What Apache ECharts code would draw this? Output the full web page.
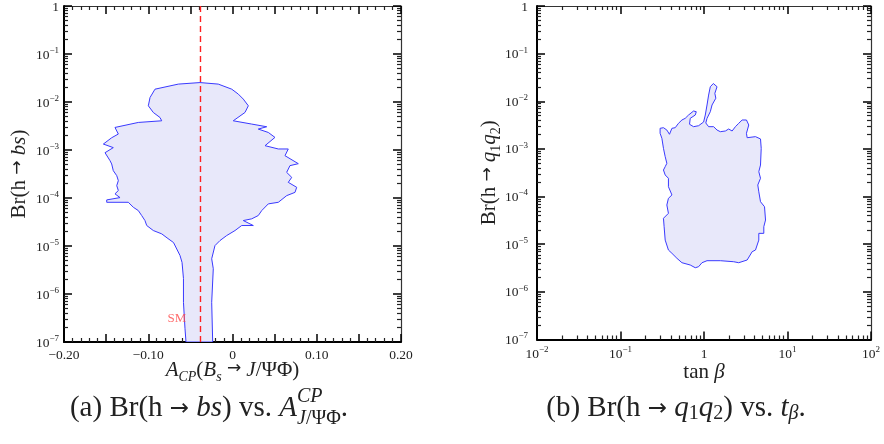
<!DOCTYPE html>
<html><head><meta charset="utf-8">
<script src="https://cdn.jsdelivr.net/npm/echarts@6/dist/echarts.min.js"></script>
<style>html,body{margin:0;padding:0;background:#fff}#c{width:884px;height:444px}</style>
</head><body><div id="c"></div>
<script>
// ---------- data ----------
// (a) allowed region: A_CP(Bs -> J/psi phi) vs Br(h -> bs), polygon outline
const leftA = [-0.0552,-0.0564,-0.0582,-0.0582,-0.0599,-0.0623,-0.0700,-0.0766,-0.0840,-0.0940,-0.1018,-0.1039,-0.1078,-0.1118,-0.1177,-0.1237,-0.1493,-0.1493,-0.1335,-0.1395,-0.1355,-0.1374,-0.1355,-0.1374,-0.1415,-0.1434,-0.1454,-0.1513,-0.1415,-0.1533,-0.1434,-0.1355,-0.1395,-0.1118,-0.0840,-0.0861,-0.0940,-0.0999,-0.0979,-0.0920,-0.0643,-0.0386,-0.0169,-0.0009,0.0069,0.0128,0.0188,0.0148,0.0009,0.0228,0.0406,0.0306,0.0425,0.0504,0.0386,0.0544,0.0662,0.0623,0.0781,0.0682,0.0643,0.0703,0.0662,0.0762,0.0742,0.0643,0.0544,0.0425,0.0347,0.0306,0.0228,0.0128,0.0247,0.0109,0.0030,-0.0069,-0.0148,-0.0208,-0.0247,-0.0228,-0.0247,-0.0235];
const leftBr = [1e-7,1.93e-7,6.7e-7,2.11e-6,4.54e-6,6.34e-6,1.18e-5,1.43e-5,1.79e-5,2.10e-5,2.67e-5,3.39e-5,4.31e-5,5.47e-5,6.41e-5,8.14e-5,8.14e-5,9.12e-5,1.02e-4,1.22e-4,1.43e-4,1.81e-4,2.30e-4,2.92e-4,3.71e-4,5.12e-4,6.0e-4,8.79e-4,1.12e-3,1.33e-3,1.80e-3,2.15e-3,2.95e-3,3.75e-3,4.06e-3,4.76e-3,6.05e-3,8.34e-3,1.24e-2,1.85e-2,2.36e-2,2.54e-2,2.36e-2,1.85e-2,1.46e-2,1.15e-2,8.34e-3,6.05e-3,4.06e-3,3.47e-3,3.05e-3,2.73e-3,2.32e-3,1.83e-3,1.23e-3,1.05e-3,1.05e-3,7.61e-4,5.19e-4,4.72e-4,3.42e-4,2.69e-4,2.12e-4,1.67e-4,1.31e-4,1.12e-4,8.14e-5,7.54e-5,5.47e-5,4.31e-5,3.68e-5,3.39e-5,2.67e-5,2.67e-5,2.10e-5,1.65e-5,1.30e-5,1.02e-5,5.42e-6,3.36e-6,6.7e-7,1e-7];
// SM value of A_CP (dashed line) and its label
const smA = [-0.038, -0.038];
const smBr = [1e-7, 1];
const smLabel = { a: -0.066, br: 3.1e-7, text: 'SM' };
// (b) allowed region: tan(beta) vs Br(h -> q1 q2), polygon outline
const rightTanB = [0.298,0.327,0.359,0.386,0.413,0.452,0.495,0.544,0.596,0.653,0.750,0.808,0.786,0.684,0.671,0.750,0.861,0.989,1.036,1.087,1.136,1.190,1.294,1.433,1.348,1.386,1.248,1.190,1.087,1.051,1.136,1.304,1.433,1.570,1.803,1.976,2.170,2.378,2.605,2.862,3.224,3.437,3.224,3.287,4.137,4.751,4.844,4.751,4.532,4.751,4.408,4.532,4.751,5.306,5.455,5.203,5.203,4.532,4.532,4.137,3.776,3.287,2.605,2.269,1.570,1.087,0.946,0.861,0.786,0.684,0.544,0.474,0.413,0.375,0.343,0.333,0.327,0.375,0.359,0.375,0.413,0.375,0.375,0.343,0.327,0.343,0.359,0.343,0.327,0.313,0.298];
const rightBr = [2.71e-3,2.79e-3,2.49e-3,2.03e-3,2.71e-3,2.79e-3,3.45e-3,4.05e-3,4.39e-3,5.15e-3,6.25e-3,6.04e-3,5.15e-3,4.39e-3,3.29e-3,2.93e-3,3.07e-3,3.67e-3,5.15e-3,8.36e-3,1.35e-2,2.02e-2,2.36e-2,2.02e-2,1.47e-2,1.16e-2,8.36e-3,6.04e-3,4.39e-3,3.50e-3,2.93e-3,2.93e-3,2.49e-3,2.30e-3,2.38e-3,2.62e-3,2.38e-3,2.93e-3,3.45e-3,4.05e-3,4.05e-3,3.18e-3,2.13e-3,1.72e-3,1.81e-3,1.62e-3,1.03e-3,4.59e-4,3.33e-4,2.42e-4,1.75e-4,1.26e-4,7.80e-5,6.12e-5,3.22e-5,2.33e-5,1.69e-5,1.69e-5,1.22e-5,7.55e-6,6.97e-6,4.66e-6,4.09e-6,4.29e-6,4.51e-6,4.51e-6,4.09e-6,3.37e-6,3.21e-6,3.66e-6,4.09e-6,5.06e-6,6.44e-6,7.55e-6,1.22e-5,2.33e-5,3.50e-5,4.45e-5,6.65e-5,9.19e-5,1.08e-4,1.61e-4,2.42e-4,2.84e-4,3.61e-4,4.24e-4,4.99e-4,6.87e-4,1.03e-3,1.67e-3,2.13e-3];
// tick labels
const aTickValues = [-0.2, -0.1, 0, 0.1, 0.2];
const aTickLabels = ['\u22120.20', '\u22120.10', '0', '0.10', '0.20'];
const brDecades = [0, -1, -2, -3, -4, -5, -6, -7];
const tanbDecades = [-2, -1, 0, 1, 2];

// ---------- styling ----------
const F = "'Liberation Serif', 'DejaVu Serif', serif";
const AR = "'DejaVu Sans', sans-serif";
const TXT = '#222';
const FILL = '#e8e8fa', STROKE = '#3a3aff';

function decadeLabel(v, list) {
  const e = Math.round(Math.log10(v));
  if (list.indexOf(e) < 0) return '';
  if (e === 0) return '{b|1}';
  return '{b|10}{s|' + (e < 0 ? '\u2212' + (-e) : e) + '}';
}
function aLabel(v) {
  for (let i = 0; i < aTickValues.length; i++) if (Math.abs(v - aTickValues[i]) < 1e-9) return '{b|' + aTickLabels[i] + '}';
  return '';
}
const tickRich = {
  b: { fontFamily: F, fontSize: 13.5, color: TXT, lineHeight: 16, verticalAlign: 'bottom' },
  s: { fontFamily: F, fontSize: 9, color: TXT, lineHeight: 9, verticalAlign: 'top' }
};
const NS = 21;
const nameRich = {
  n: { fontFamily: F, fontSize: NS, color: TXT, lineHeight: 24, verticalAlign: 'top' },
  i: { fontFamily: F, fontSize: NS, color: TXT, fontStyle: 'italic', lineHeight: 24, verticalAlign: 'top' },
  ar: { fontFamily: AR, fontSize: 17, color: TXT, lineHeight: 24, verticalAlign: 'top' },
  sub: { fontFamily: F, fontSize: 14, color: TXT, fontStyle: 'italic', lineHeight: 15, verticalAlign: 'bottom' },
  subn: { fontFamily: F, fontSize: 14, color: TXT, lineHeight: 15, verticalAlign: 'bottom' }
};

function mkTicks() {
  return {
    splitLine: { show: false },
    axisTick: { show: true, inside: true, length: 8, lineStyle: { color: '#000', width: 1.5 } },
    minorTick: { show: true, length: 4, lineStyle: { color: '#222', width: 1.2 } }
  };
}
function mainLine() { return { axisLine: { show: true, onZero: false, lineStyle: { color: '#000', width: 2 } } }; }
function thinLine() { return { axisLine: { show: true, onZero: false, lineStyle: { color: '#333', width: 1.2 } }, axisLabel: { show: false } }; }

function axisA(pos, extra) {
  const t = mkTicks(); t.minorTick.splitNumber = 5;
  return Object.assign({ gridIndex: 0, type: 'value', min: -0.2, max: 0.2, interval: 0.05, position: pos,
    axisLabel: { formatter: aLabel, rich: tickRich, margin: 4 } }, t, extra);
}
function axisBr(gi, pos, margin, extra) {
  const t = mkTicks(); t.minorTick.splitNumber = 9;
  return Object.assign({ gridIndex: gi, type: 'log', logBase: 10, min: 1e-7, max: 1, splitNumber: 7, position: pos,
    axisLabel: { formatter: v => decadeLabel(v, brDecades), rich: tickRich, margin: margin } }, t, extra);
}
function axisT(pos, extra) {
  const t = mkTicks(); t.minorTick.splitNumber = 9;
  return Object.assign({ gridIndex: 1, type: 'log', logBase: 10, min: 0.01, max: 100, splitNumber: 4, position: pos,
    axisLabel: { formatter: v => decadeLabel(v, tanbDecades), rich: tickRich, margin: 6 } }, t, extra);
}
function named(name, gap) {
  return { name: name, nameLocation: 'middle', nameGap: gap, nameMoveOverlap: false, nameTextStyle: { rich: nameRich } };
}

const option = {
  animation: false,
  backgroundColor: '#fff',
  grid: [
    { left: 64, right: 483, top: 5, bottom: 102 },
    { left: 537, right: 13, top: 6, bottom: 104.5 }
  ],
  xAxis: [
    axisA('bottom', Object.assign(mainLine(), named('{i|A}{sub|CP}{n|(}{i|B}{sub|s}{n| }{ar|\u2192}{n| }{i|J}{n|/\u03A8\u03A6)}', 18))),
    axisA('top', thinLine()),
    axisT('bottom', Object.assign(mainLine(), named('{n|tan }{i|\u03B2}', 22))),
    axisT('top', thinLine())
  ],
  yAxis: [
    axisBr(0, 'left', 5, Object.assign(mainLine(), named('{n|Br(h }{ar|\u2192}{n| }{i|bs}{n|)}', 31))),
    axisBr(0, 'right', 5, thinLine()),
    axisBr(1, 'left', 9, Object.assign(mainLine(), named('{n|Br(h }{ar|\u2192}{n| }{i|q}{subn|1}{i|q}{subn|2}{n|)}', 34))),
    axisBr(1, 'right', 9, thinLine())
  ],
  series: [
    {
      type: 'custom', coordinateSystem: 'cartesian2d', xAxisIndex: 0, yAxisIndex: 0, z: 2, clip: true,
      data: leftA.map((a, i) => [a, leftBr[i]]),
      renderItem: function (params, api) {
        if (params.dataIndex !== 0) return null;
        const pts = leftA.map((a, i) => api.coord([a, leftBr[i]]));
        return { type: 'polygon', shape: { points: pts }, style: { fill: FILL, stroke: STROKE, lineWidth: 1 } };
      }
    },
    {
      type: 'line', xAxisIndex: 0, yAxisIndex: 0, z: 3, symbol: 'none',
      data: smA.map((a, i) => [a, smBr[i]]),
      lineStyle: { color: '#ff2020', width: 1.4, type: [6, 4] }
    },
    {
      type: 'scatter', xAxisIndex: 0, yAxisIndex: 0, z: 4, symbolSize: 0,
      data: [[smLabel.a, smLabel.br]],
      label: { show: true, position: 'inside', formatter: smLabel.text, color: '#ff4a4a', fontFamily: F, fontSize: 13 }
    },
    {
      type: 'custom', coordinateSystem: 'cartesian2d', xAxisIndex: 2, yAxisIndex: 2, z: 2, clip: true,
      data: rightTanB.map((t, i) => [t, rightBr[i]]),
      renderItem: function (params, api) {
        if (params.dataIndex !== 0) return null;
        const pts = rightTanB.map((t, i) => api.coord([t, rightBr[i]]));
        return { type: 'polygon', shape: { points: pts }, style: { fill: FILL, stroke: STROKE, lineWidth: 1 } };
      }
    }
  ]
};

// ---------- captions (text layout) ----------
const cv = document.createElement('canvas').getContext('2d');
function fontStr(sz, it, fam) { return (it ? 'italic ' : '') + sz + 'px ' + (fam || "'Liberation Serif'"); }
function measure(q) { cv.font = fontStr(q.sz, q.it, q.fam); return cv.measureText(q.t).width; }
function runsWidth(runs) {
  let w = 0;
  runs.forEach(r => {
    if (r.stack) w += Math.max.apply(null, r.stack.map(l => l.runs.reduce((s, q) => s + measure(q), 0)));
    else w += measure(r);
  });
  return w;
}
function runText(cx, y, runs) {
  let x = cx - runsWidth(runs) / 2;
  const els = [];
  const mk = (q, xx, yy) => ({ type: 'text', x: xx, y: yy, style: { text: q.t, font: fontStr(q.sz, q.it, q.fam), fill: TXT, textVerticalAlign: 'middle' } });
  runs.forEach(r => {
    if (r.stack) {
      let w = 0;
      r.stack.forEach(line => {
        let xx = x;
        line.runs.forEach(q => { els.push(mk(q, xx, y + line.dy)); xx += measure(q); });
        w = Math.max(w, xx - x);
      });
      x += w;
    } else {
      els.push(mk(r, x, y + (r.dy || 0)));
      x += measure(r);
    }
  });
  return els;
}
const CS = 29, CSS = 20, ARS = 23;
const capA = runText(209, 408, [
  { t: '(a) Br(h ', sz: CS }, { t: '\u2192', sz: ARS, fam: AR, dy: 1 }, { t: ' ', sz: CS }, { t: 'bs', sz: CS, it: true }, { t: ') vs. ', sz: CS }, { t: 'A', sz: CS, it: true },
  { stack: [
    { dy: -11, runs: [{ t: 'CP', sz: CSS, it: true }] },
    { dy: 11, runs: [{ t: 'J', sz: CSS, it: true }, { t: '/\u03A8\u03A6', sz: CSS }] }
  ] },
  { t: '.', sz: CS }
]);
const capB = runText(676, 408, [
  { t: '(b) Br(h ', sz: CS }, { t: '\u2192', sz: ARS, fam: AR, dy: 1 }, { t: ' ', sz: CS }, { t: 'q', sz: CS, it: true }, { t: '1', sz: CSS, dy: 6 }, { t: 'q', sz: CS, it: true }, { t: '2', sz: CSS, dy: 6 },
  { t: ') vs. ', sz: CS }, { t: 't', sz: CS, it: true }, { t: '\u03B2', sz: CSS, it: true, dy: 6 }, { t: '.', sz: CS }
]);
option.graphic = capA.concat(capB);

const chart = echarts.init(document.getElementById('c'), null, { renderer: 'canvas' });
chart.setOption(option);
</script>
</body></html>
